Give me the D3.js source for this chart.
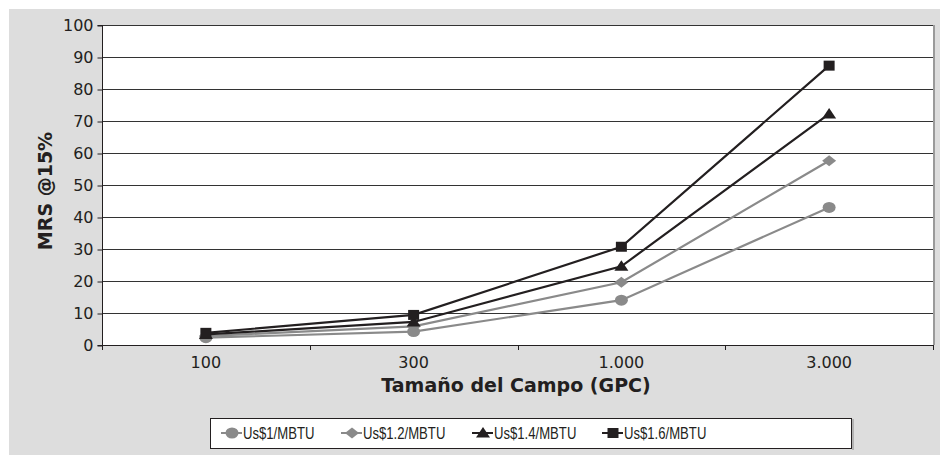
<!DOCTYPE html>
<html lang="es">
<head>
<meta charset="UTF-8">
<title>MRS @15%</title>
<script src="https://cdn.jsdelivr.net/npm/d3@7"></script>
<style>
  body { margin: 0; background: #fff; }
  text { fill: #231f20; }
</style>
</head>
<body>
<div id="chart"></div>
<script>
var categories = ['100', '300', '1.000', '3.000'];
var seriesNames = ['Us$1/MBTU', 'Us$1.2/MBTU', 'Us$1.4/MBTU', 'Us$1.6/MBTU'];
var us1 = [2.3, 4.2, 14, 43];
var us12 = [2.8, 5.8, 19.6, 57.6];
var us14 = [3.3, 7.2, 24.6, 72.2];
var us16 = [3.8, 9.4, 30.7, 87.3];
var yTicks = [0, 10, 20, 30, 40, 50, 60, 70, 80, 90, 100];

var w = 940, h = 456;
// plot box (note: "top" is reserved on window, so use a margin object)
var plot = { l: 102, r: 933, t: 25, b: 345 };

var series = [
  { name: seriesNames[0], values: us1, color: '#8a8a8a', shape: 'circle' },
  { name: seriesNames[1], values: us12, color: '#8a8a8a', shape: 'diamond' },
  { name: seriesNames[2], values: us14, color: '#231f20', shape: 'triangle' },
  { name: seriesNames[3], values: us16, color: '#231f20', shape: 'square' }
];

var svg = d3.select('#chart').append('svg')
  .attr('width', w)
  .attr('height', h);

// gray chart area
svg.append('rect')
  .attr('x', 9).attr('y', 9)
  .attr('width', w - 9).attr('height', 446)
  .attr('fill', '#dddddd');

var xScale = d3.scaleBand()
  .domain(categories)
  .range([plot.l, plot.r]);

var yScale = d3.scaleLinear()
  .domain([0, 100])
  .range([plot.b, plot.t]);

// plot area
svg.append('rect')
  .attr('x', plot.l).attr('y', plot.t)
  .attr('width', plot.r - plot.l).attr('height', plot.b - plot.t)
  .attr('fill', '#fff');
svg.append('line')
  .attr('x1', plot.r + 1).attr('x2', plot.r + 1)
  .attr('y1', plot.t).attr('y2', plot.b)
  .attr('stroke', '#9a9a9a').attr('stroke-width', 2);

// gridlines
svg.append('g').selectAll('line').data(yTicks).enter().append('line')
  .attr('x1', plot.l).attr('x2', plot.r)
  .attr('y1', d => yScale(d) + 0.5).attr('y2', d => yScale(d) + 0.5)
  .attr('stroke', '#333').attr('stroke-width', 1);

// y axis
var yAxis = d3.axisLeft(yScale).tickValues(yTicks).tickSize(5).tickPadding(4);
var yg = svg.append('g')
  .attr('transform', 'translate(' + (plot.l + 0.5) + ',0.5)')
  .call(yAxis);
yg.selectAll('path, line').attr('stroke', '#231f20');
yg.selectAll('text')
  .attr('font-family', 'DejaVu Sans, sans-serif')
  .attr('font-size', '16px')
  .attr('fill', '#333');
yg.select('.domain').attr('d', 'M-5,' + yScale(100) + 'H0V' + yScale(0) + 'H-5');

// x axis: labels centered, ticks at band edges
var xAxis = d3.axisBottom(xScale).tickSize(0).tickPadding(11);
var xg = svg.append('g')
  .attr('transform', 'translate(0,' + (plot.b + 0.5) + ')')
  .call(xAxis);
xg.select('.domain').attr('stroke', '#231f20').attr('d', 'M' + plot.l + ',0H' + plot.r);
xg.selectAll('text')
  .attr('font-family', 'DejaVu Sans, sans-serif')
  .attr('font-size', '16px')
  .attr('fill', '#333');

var edges = categories.map(c => xScale(c)).concat([xScale(categories[categories.length - 1]) + xScale.bandwidth()]);
svg.append('g').selectAll('line').data(edges).enter().append('line')
  .attr('x1', d => Math.round(d) + 0.5).attr('x2', d => Math.round(d) + 0.5)
  .attr('y1', plot.b).attr('y2', plot.b + 5)
  .attr('stroke', '#231f20');

// axis titles
svg.append('text')
  .attr('x', 516).attr('y', 392)
  .attr('text-anchor', 'middle')
  .attr('font-family', 'DejaVu Sans, sans-serif')
  .attr('font-weight', 'bold')
  .attr('font-size', '19px')
  .text('Tamaño del Campo (GPC)');

svg.append('text')
  .attr('transform', 'translate(52,191) rotate(-90)')
  .attr('text-anchor', 'middle')
  .attr('font-family', 'DejaVu Sans, sans-serif')
  .attr('font-weight', 'bold')
  .attr('font-size', '19px')
  .text('MRS @15%');

// marker shapes
function markerPath(shape) {
  if (shape === 'circle') return 'M-6.5,0A6.5,5.5 0 1,0 6.5,0A6.5,5.5 0 1,0 -6.5,0Z';
  if (shape === 'diamond') return 'M-7,0L0,-5.5L7,0L0,5.5Z';
  if (shape === 'triangle') return 'M-7,4.5L0,-6L7,4.5Z';
  return 'M-5.5,-5H5.5V5H-5.5Z';
}

var line = d3.line()
  .x((d, i) => xScale(categories[i]) + xScale.bandwidth() / 2)
  .y(d => yScale(d));

var lines = svg.append('g');
series.forEach(function (s) {
  lines.append('path')
    .attr('d', line(s.values))
    .attr('fill', 'none')
    .attr('stroke', s.color)
    .attr('stroke-width', 2.2);
  lines.selectAll(null).data(s.values).enter().append('path')
    .attr('transform', (d, i) => 'translate(' + (xScale(categories[i]) + xScale.bandwidth() / 2) + ',' + yScale(d) + ')')
    .attr('d', markerPath(s.shape))
    .attr('fill', s.color);
});

// legend
var legend = svg.append('g');
legend.append('rect')
  .attr('x', 210.5).attr('y', 418.5)
  .attr('width', 641).attr('height', 30)
  .attr('fill', '#fff')
  .attr('stroke', '#231f20');
legend.append('line')
  .attr('x1', 853).attr('x2', 853).attr('y1', 419).attr('y2', 450)
  .attr('stroke', '#8a8a8a').attr('stroke-width', 1);

var legendX = [232, 352, 483, 613];
series.forEach(function (s, i) {
  var g = legend.append('g').attr('transform', 'translate(' + legendX[i] + ',433)');
  g.append('line')
    .attr('x1', -11).attr('x2', 10)
    .attr('stroke', s.color).attr('stroke-width', 2);
  g.append('path').attr('d', markerPath(s.shape)).attr('fill', s.color);
  // narrow font is not available, squeeze the regular one
  g.append('text')
    .attr('transform', 'translate(11,6) scale(0.82,1)')
    .attr('font-family', 'Liberation Sans, Arial, sans-serif')
    .attr('font-size', '16px')
    .attr('fill', '#231f20')
    .text(s.name);
});
</script>
</body>
</html>
